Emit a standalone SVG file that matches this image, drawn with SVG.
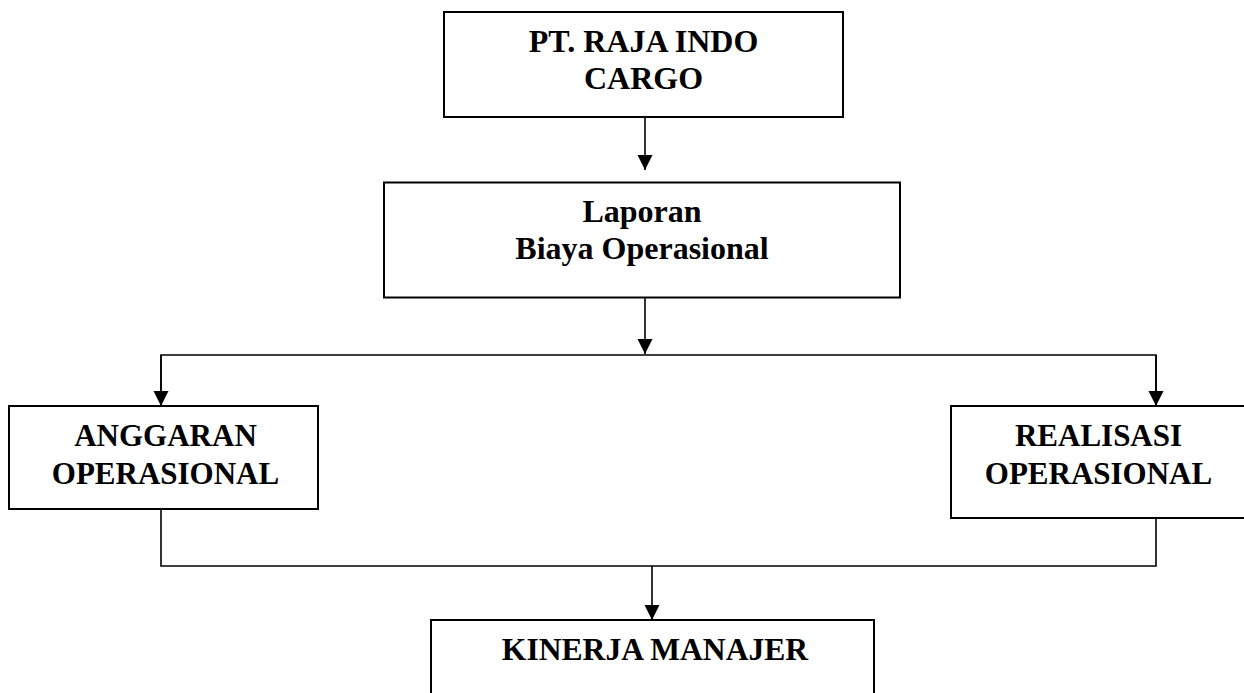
<svg xmlns="http://www.w3.org/2000/svg" width="1244" height="693" viewBox="0 0 1244 693">
<style>
.box{fill:#fff;stroke:#000;stroke-width:2}
.t{font-family:"Liberation Serif","Times New Roman",serif;font-weight:bold;font-size:31px;fill:#000;text-anchor:middle}
.big{font-size:32px}
.ln{fill:none;stroke:#000;stroke-width:1.6}
</style>
<defs>
<marker id="ah" markerUnits="userSpaceOnUse" markerWidth="16" markerHeight="16" refX="15" refY="7.5" orient="auto">
<path d="M0,0 L15,7.5 L0,15 Z" fill="#000"/>
</marker>
</defs>
<rect width="1244" height="693" fill="#fff"/>
<g id="connectors">
<line class="ln" x1="645" y1="117" x2="645" y2="170" marker-end="url(#ah)"/>
<line class="ln" x1="645" y1="298" x2="645" y2="354" marker-end="url(#ah)"/>
<polyline class="ln" points="161,406 161,355 1156,355 1156,406"/>
<line class="ln" x1="161" y1="355" x2="161" y2="406" marker-end="url(#ah)"/>
<line class="ln" x1="1156" y1="355" x2="1156" y2="406" marker-end="url(#ah)"/>
<polyline class="ln" points="161,509 161,566 1156,566 1156,518"/>
<line class="ln" x1="652" y1="566" x2="652" y2="620" marker-end="url(#ah)"/>
</g>
<g id="node-pt">
<rect class="box" x="444" y="12" width="399" height="105"/>
<text class="t big" x="643.5" y="52">PT. RAJA INDO</text>
<text class="t big" x="643.5" y="89">CARGO</text>
</g>
<g id="node-laporan">
<rect class="box" x="384" y="182.5" width="516" height="115"/>
<text class="t big" x="642" y="222">Laporan</text>
<text class="t big" x="642" y="259">Biaya Operasional</text>
</g>
<g id="node-anggaran">
<rect class="box" x="9" y="406" width="309" height="103"/>
<text class="t" x="165.5" y="446">ANGGARAN</text>
<text class="t" x="165.5" y="484">OPERASIONAL</text>
</g>
<g id="node-realisasi">
<rect class="box" x="951" y="406" width="320" height="112"/>
<text class="t" x="1098.5" y="446">REALISASI</text>
<text class="t" x="1098.5" y="484">OPERASIONAL</text>
</g>
<g id="node-kinerja">
<rect class="box" x="431" y="620" width="443" height="100"/>
<text class="t" x="655" y="660" style="font-size:31.6px">KINERJA MANAJER</text>
</g>
</svg>
